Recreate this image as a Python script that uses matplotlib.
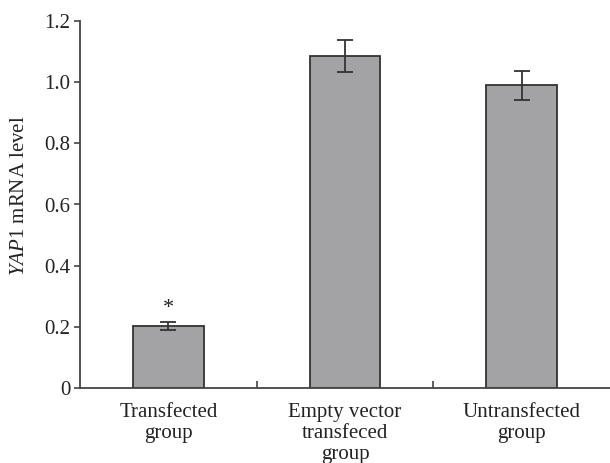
import matplotlib
matplotlib.use("Agg")
import matplotlib.pyplot as plt
import numpy as np

categories = ["Transfected\ngroup", "Empty vector\ntransfeced\ngroup", "Untransfected\ngroup"]
means = [0.203, 1.086, 0.990]
errors = [0.013, 0.053, 0.048]
markers = ["*", "", ""]
y_ticks = [0, 0.2, 0.4, 0.6, 0.8, 1.0, 1.2]
y_tick_labels = ["0", "0.2", "0.4", "0.6", "0.8", "1.0", "1.2"]

plt.rcParams['font.family'] = ['Liberation Serif', 'DejaVu Serif']
plt.rcParams['mathtext.fontset'] = 'custom'
plt.rcParams['mathtext.rm'] = 'Liberation Serif'
plt.rcParams['mathtext.it'] = 'Liberation Serif:italic'

txt = '#222222'
fig = plt.figure(figsize=(6.10, 4.63), dpi=100)
ax = fig.add_axes([80/610, 75/463, 530/610, 367/463])

x = np.arange(len(categories))
ax.bar(x, means, width=0.4, color='#a3a3a6', edgecolor='#333333', linewidth=1.3,
       yerr=errors, error_kw=dict(ecolor='#333333', elinewidth=1.3, capsize=5.5, capthick=1.3))
for xi, m, e, s in zip(x, means, errors, markers):
    if s:
        ax.text(xi, m + e + 0.045, s, ha='center', va='center', fontsize=16, color=txt)

ax.set_xlim(-0.5, 2.5)
ax.set_ylim(0, 1.2)
ax.set_yticks(y_ticks)
ax.set_yticklabels(y_tick_labels, fontsize=15, color=txt)
ax.set_xticks(x)
ax.set_xticklabels(categories, fontsize=15, color=txt, linespacing=1.13)
ax.set_xticks([0.5, 1.5], minor=True)
ax.tick_params(axis='x', which='major', length=0, pad=11)
ax.tick_params(axis='x', which='minor', direction='in', length=5, width=1.2, color='#444444')
ax.tick_params(axis='y', direction='out', length=4, width=1.2, color='#444444', pad=3)
for sp in ['top', 'right']:
    ax.spines[sp].set_visible(False)
for sp in ['left', 'bottom']:
    ax.spines[sp].set_color('#444444')
    ax.spines[sp].set_linewidth(1.3)
ax.set_ylabel(r'$\mathit{YAP1}$ mRNA level', fontsize=15, color=txt)
ax.yaxis.set_label_coords(-0.097, 0.523)

fig.savefig('out.png', dpi=100)
